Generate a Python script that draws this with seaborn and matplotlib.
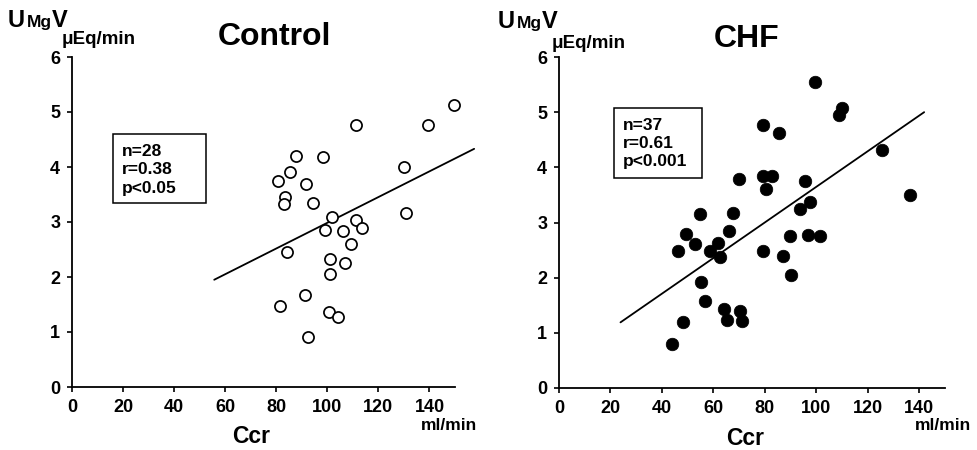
import matplotlib
matplotlib.use("Agg")
import matplotlib.pyplot as plt
import seaborn as sns
import pandas as pd
from matplotlib.patches import Rectangle

# ---------------- data ----------------
control_ccr = [149.7, 139.3, 111.3, 130.2, 130.9, 87.6, 98.3, 85.5, 80.5, 91.8,
               83.3, 83.1, 94.4, 101.8, 111.3, 113.7, 99.0, 106.1, 109.4, 84.2,
               101.2, 106.8, 101.2, 91.1, 81.6, 100.7, 104.2, 92.4]
control_umgv = [5.12, 4.76, 4.76, 4.00, 3.17, 4.20, 4.19, 3.91, 3.74, 3.70,
                3.45, 3.33, 3.35, 3.09, 3.04, 2.90, 2.86, 2.83, 2.60, 2.45,
                2.32, 2.26, 2.06, 1.67, 1.48, 1.37, 1.28, 0.91]

chf_ccr = [99.6, 110.0, 108.7, 79.2, 85.6, 125.5, 136.4, 79.4, 82.8, 69.9,
           95.7, 80.5, 97.5, 93.8, 54.9, 67.8, 66.2, 49.2, 89.9, 96.6,
           101.6, 52.9, 61.7, 58.7, 46.4, 62.6, 79.4, 86.9, 90.2, 55.2,
           56.8, 64.3, 70.4, 65.3, 71.0, 48.1, 43.8]
chf_umgv = [5.54, 5.08, 4.95, 4.76, 4.62, 4.32, 3.50, 3.85, 3.84, 3.78,
            3.76, 3.61, 3.38, 3.24, 3.15, 3.18, 2.85, 2.79, 2.76, 2.78,
            2.76, 2.61, 2.62, 2.49, 2.48, 2.37, 2.49, 2.40, 2.04, 1.93,
            1.58, 1.43, 1.39, 1.23, 1.21, 1.19, 0.80]

control_fit_x = [55.7, 157.5]
control_fit_y = [1.95, 4.33]
chf_fit_x = [23.9, 141.9]
chf_fit_y = [1.19, 5.00]

x_ticks = [0, 20, 40, 60, 80, 100, 120, 140]
y_ticks = [0, 1, 2, 3, 4, 5, 6]

titles = ["Control", "CHF"]
control_stats = ["n=28", "r=0.38", "p<0.05"]
chf_stats = ["n=37", "r=0.61", "p<0.001"]

# ---------------- style ----------------
sns.set_theme(style="ticks")
plt.rcParams["font.family"] = ["Liberation Sans", "DejaVu Sans"]
plt.rcParams["font.weight"] = "bold"
plt.rcParams["text.color"] = "black"
plt.rcParams["xtick.color"] = "black"
plt.rcParams["ytick.color"] = "black"
plt.rcParams["axes.edgecolor"] = "black"

W, H = 978, 450
fig = plt.figure(figsize=(W / 100, H / 100), dpi=100)
fig.patch.set_facecolor("white")


def fx(px):
    return px / W


def fy(py):
    return 1 - py / H


ax1 = fig.add_axes([fx(72), fy(387), (455 - 72) / W, (387 - 57) / H])
ax2 = fig.add_axes([fx(559), fy(388), (945 - 559) / W, (388 - 57) / H])

df_c = pd.DataFrame({"ccr": control_ccr, "umgv": control_umgv})
df_h = pd.DataFrame({"ccr": chf_ccr, "umgv": chf_umgv})
fit_c = pd.DataFrame({"x": control_fit_x, "y": control_fit_y})
fit_h = pd.DataFrame({"x": chf_fit_x, "y": chf_fit_y})

sns.scatterplot(data=df_c, x="ccr", y="umgv", ax=ax1, s=64, marker="o",
                facecolor="white", edgecolor="black", linewidth=1.25, zorder=3)
sns.lineplot(data=fit_c, x="x", y="y", ax=ax1, color="black", linewidth=1.3,
             zorder=2)
sns.scatterplot(data=df_h, x="ccr", y="umgv", ax=ax2, s=82, marker="o",
                color="black", edgecolor="black", linewidth=0.5, zorder=3)
sns.lineplot(data=fit_h, x="x", y="y", ax=ax2, color="black", linewidth=1.3,
             zorder=2)

for ax in (ax1, ax2):
    for ln in ax.get_lines():
        ln.set_clip_on(False)
    for col in ax.collections:
        col.set_clip_on(False)
    ax.set_xlim(0, 150)
    ax.set_ylim(0, 6)
    ax.set_xticks(x_ticks)
    ax.set_yticks(y_ticks)
    ax.set_xticklabels([str(t) for t in x_ticks], fontsize=13, fontweight="bold")
    ax.set_yticklabels([str(t) for t in y_ticks], fontsize=13, fontweight="bold")
    ax.set_xlabel("")
    ax.set_ylabel("")
    for s in ("top", "right"):
        ax.spines[s].set_visible(False)
    for s in ("left", "bottom"):
        ax.spines[s].set_linewidth(1.3)
        ax.spines[s].set_color("black")
    ax.tick_params(axis="both", direction="out", length=3.5, width=1.2,
                   color="black", labelcolor="black")
    ax.tick_params(axis="x", pad=5)
    ax.tick_params(axis="y", pad=5)
    ax.set_facecolor("white")

# titles
fig.text(fx(274), fy(45), titles[0], ha="center", va="baseline",
         fontsize=23, fontweight="bold", color="black")
fig.text(fx(747), fy(47), titles[1], ha="center", va="baseline",
         fontsize=23, fontweight="bold", color="black")

# y-axis labels (U_MgV, uEq/min) and x-axis labels (Ccr, ml/min)
for ox, uy, uqy in ((0, 27, 44), (490, 28, 48)):
    fig.text(fx(ox + 8), fy(uy), "U", ha="left", va="baseline", fontsize=17,
             fontweight="bold", color="black")
    fig.text(fx(ox + 27), fy(uy), "Mg", ha="left", va="baseline", fontsize=12.5,
             fontweight="bold", color="black")
    fig.text(fx(ox + 52), fy(uy), "V", ha="left", va="baseline", fontsize=17,
             fontweight="bold", color="black")
    fig.text(fx(ox + 62), fy(uqy), "\u03bcEq/min", ha="left", va="baseline",
             fontsize=13.5, fontweight="bold", color="black")

fig.text(fx(251), fy(443), "Ccr", ha="center", va="baseline", fontsize=16.5,
         fontweight="bold", color="black")
fig.text(fx(745), fy(445), "Ccr", ha="center", va="baseline", fontsize=16.5,
         fontweight="bold", color="black")
fig.text(fx(421), fy(430), "ml/min", ha="left", va="baseline", fontsize=12.5,
         fontweight="bold", color="black")
fig.text(fx(915), fy(430), "ml/min", ha="left", va="baseline", fontsize=12.5,
         fontweight="bold", color="black")

# statistics boxes
for (x0, y0, x1, y1), tx, bases, lines in (
        ((113, 134, 206, 203), 122, (156, 174, 193), control_stats),
        ((614, 108, 702, 178), 623, (130, 148, 166), chf_stats)):
    fig.patches.append(Rectangle((fx(x0), fy(y1)), (x1 - x0) / W, (y1 - y0) / H,
                                 transform=fig.transFigure, facecolor="white",
                                 edgecolor="black", linewidth=1.1))
    for b, s in zip(bases, lines):
        fig.text(fx(tx), fy(b), s, ha="left", va="baseline", fontsize=12.5,
                 fontweight="bold", color="black")

fig.savefig("out.png", dpi=100, facecolor="white")
